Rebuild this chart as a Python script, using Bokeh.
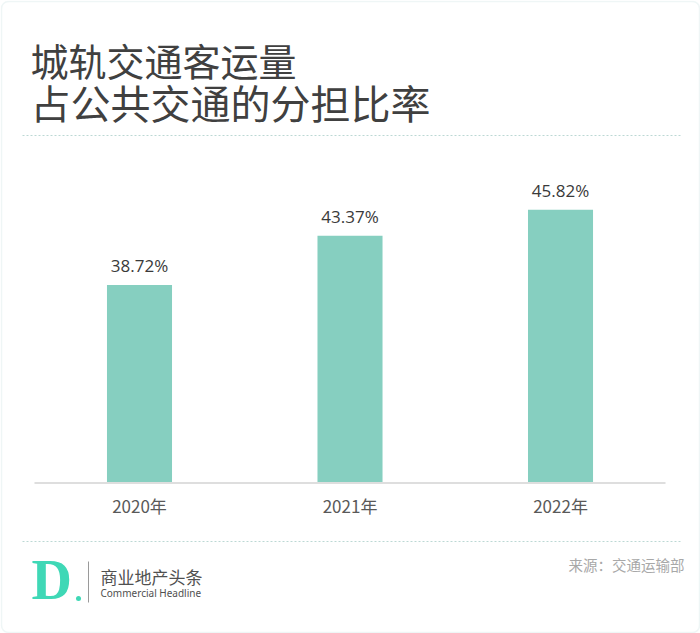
from bokeh.plotting import figure
from bokeh.models import Range1d, LabelSet, ColumnDataSource, BoxAnnotation
from bokeh.core.properties import value
from bokeh.embed import file_html
from bokeh.resources import INLINE

# ---- data ----
years = ["2020年", "2021年", "2022年"]
shares = [38.72, 43.37, 45.82]
title_lines = ["城轨交通客运量", "占公共交通的分担比率"]
source_text = "来源：交通运输部"
brand_cn = "商业地产头条"
brand_en = "Commercial Headline"
axis_min = 20

W, H = 700, 633
CJK = "Noto Sans CJK SC"

p = figure(width=W, height=H, output_backend="svg", toolbar_location=None,
           x_range=Range1d(0, W), y_range=Range1d(H, 0),
           x_axis_location=None, y_axis_location=None,
           min_border=0, outline_line_color=None,
           background_fill_color="white", border_fill_color="white")
p.grid.visible = False

# value scale / category scale
p.extra_x_ranges = {"cat": Range1d(-0.6603, 2.665)}
p.extra_y_ranges = {"val": Range1d(axis_min - 150.5 / 10.58, axis_min + 482.5 / 10.58)}

xs = list(range(len(years)))
src = ColumnDataSource(dict(x=xs, top=shares, lab=[f"{v:.2f}%" for v in shares], year=years))

# bars
p.vbar(x="x", top="top", bottom=axis_min, width=0.309, source=src,
       x_range_name="cat", y_range_name="val",
       fill_color="#86cfc0", line_color=None)

# baseline
p.segment(x0=[34], x1=[665], y0=[axis_min], y1=[axis_min], y_range_name="val",
          line_color="#dedede", line_width=2)

# value labels
labels = LabelSet(x="x", y="top", text="lab", source=src, x_range_name="cat", y_range_name="val",
                  y_offset=13, text_align="center", text_baseline="alphabetic",
                  text_font=value("Open Sans"), text_font_size="17px", text_color="#3a3a3a")
p.add_layout(labels)

# category labels
p.text(x="x", y=505, text="year", source=src, x_range_name="cat",
       text_align="center", text_baseline="middle",
       text_font=value(CJK), text_font_size="17px", text_color="#595959")

# title
p.text(x=[30], y=[59], text=[title_lines[0]], text_align="left", text_baseline="middle",
       text_font=value(CJK), text_font_size="38px", text_color="#404040")
p.text(x=[30], y=[101], text=[title_lines[1]], text_align="left", text_baseline="middle",
       text_font=value(CJK), text_font_size="40px", text_color="#404040")

# separators
p.segment(x0=[22, 22], x1=[680, 680], y0=[135, 541], y1=[135, 541],
          line_color="#bcd8d4", line_width=1, line_dash="2 2")

# logo
p.text(x=[31], y=[579], text=["D"], text_align="left", text_baseline="middle",
       text_font=value("Liberation Serif"), text_font_style="bold",
       text_font_size="56px", text_color="#3fd8b6")
p.scatter(x=[78], y=[598], size=5, marker="circle", fill_color="#3fd8b6", line_color=None)
p.segment(x0=[88], x1=[88], y0=[561], y1=[602], line_color="#9a9a9a", line_width=1)
p.text(x=[100], y=[576], text=[brand_cn], text_align="left", text_baseline="middle",
       text_font=value(CJK), text_font_size="17px", text_color="#505050")
p.text(x=[100], y=[592], text=[brand_en], text_align="left", text_baseline="middle",
       text_font=value("Noto Sans"), text_font_size="10px", text_color="#505050")

# source
p.text(x=[684], y=[564], text=[source_text], text_align="right", text_baseline="middle",
       text_font=value(CJK), text_font_size="14.5px", text_color="#a8a8a8")

# outer rounded border
p.add_layout(BoxAnnotation(left=1, right=699, top=1, bottom=632, fill_alpha=0,
                           line_color="#c9e2e2", line_width=1.5, border_radius=7))

open("out.html", "w").write(file_html(p, INLINE))
